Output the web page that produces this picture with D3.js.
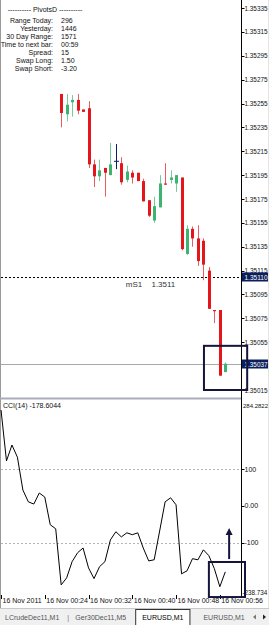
<!DOCTYPE html>
<html>
<head>
<meta charset="utf-8">
<script src="https://cdn.jsdelivr.net/npm/d3@7"></script>
<style>
    body { margin: 0; background: #fff; }
    svg { display: block; font-family: "Liberation Sans", Arial, sans-serif; }
</style>
</head>
<body>
<svg id="chart" width="269" height="625"></svg>
<script>
// EURUSD M1 candles, index = minutes after 00:16
const barIndex = [11, 12, 13, 14, 15, 16, 17, 18, 19, 20, 21, 22, 23, 24, 25, 26, 27, 28, 29, 30,
                  31, 32, 33, 34, 35, 36, 37, 38, 39, 40, 41];
const opens  = [1.35263, 1.35246, 1.35256, 1.35258, 1.35250, 1.35251, 1.35204, 1.35194, 1.35201, 1.35195,
                1.35207, 1.35205, 1.35191, 1.35197, 1.35197, 1.35190, 1.35174, 1.35157, 1.35168, 1.35188,
                1.35191, 1.35188, 1.35193, 1.35129, 1.35150, 1.35142, 1.35140, 1.35115, 1.35082, 1.35082, 1.35030];
const highs  = [1.35263, 1.35263, 1.35262, 1.35263, 1.35250, 1.35257, 1.35208, 1.35208, 1.35201, 1.35222,
                1.35221, 1.35210, 1.35203, 1.35199, 1.35197, 1.35192, 1.35174, 1.35177, 1.35195, 1.35205,
                1.35199, 1.35195, 1.35193, 1.35153, 1.35152, 1.35153, 1.35142, 1.35118, 1.35082, 1.35082, 1.35038];
const lows   = [1.35235, 1.35240, 1.35244, 1.35246, 1.35248, 1.35201, 1.35185, 1.35190, 1.35177, 1.35195,
                1.35200, 1.35187, 1.35189, 1.35188, 1.35190, 1.35173, 1.35160, 1.35155, 1.35168, 1.35187,
                1.35188, 1.35181, 1.35132, 1.35128, 1.35135, 1.35119, 1.35107, 1.35083, 1.35071, 1.35027, 1.35030];
const closes = [1.35247, 1.35254, 1.35258, 1.35249, 1.35248, 1.35204, 1.35194, 1.35199, 1.35197, 1.35204,
                1.35207, 1.35189, 1.35198, 1.35193, 1.35190, 1.35173, 1.35161, 1.35169, 1.35188, 1.35187,
                1.35193, 1.35195, 1.35133, 1.35150, 1.35142, 1.35123, 1.35120, 1.35083, 1.35081, 1.35027, 1.35037];

// CCI(14), one value per minute from 00:16
const cciValues = [260, 122, 165, 132, 43, 11, 5, 35, 24, -51,
                   -62, -214, -195, -151, -127, -114, -168, -197, -165, -151,
                   -92, -70, -84, -73, -78, -73, -114, -149, -146, -68,
                   11, 22, 3, -184, -176, -143, -146, -119, -135, -170,
                   -219, -178.6044];

const priceTicks = [1.35335, 1.35315, 1.35295, 1.35275, 1.35255, 1.35235, 1.35215, 1.35195, 1.35175,
                    1.35155, 1.35135, 1.35115, 1.35095, 1.35075, 1.35055, 1.35035, 1.35015];
const cciTicks = [100, 0, -100];
const cciTickLabels = ['100', '0.00', '-100'];
const cciMax = 284.2822;
const cciMin = -238.734;
const cciLevels = [100, -100];

const timeTicks = [0, 8, 16, 24, 32, 40];
const timeLabels = ['16 Nov 2011', '16 Nov 00:24', '16 Nov 00:32', '16 Nov 00:40', '16 Nov 00:48', '16 Nov 00:56'];

const pivotLevel = 1.3511;
const pivotName = 'mS1';
const bidPrice = 1.35037;

const infoLabels = ['Range  Today:', 'Yesterday:', '30 Day Range:', 'Time to next bar:', 'Spread:', 'Swap  Long:', 'Swap  Short:'];
const infoValues = ['296', '1446', '1571', '00:59', '15', '1.50', '-3.20'];

const tabLabels = ['LCrudeDec11,M1', 'Ger30Dec11,M5', 'EURUSD,M1', 'EURUSD,M1'];
const activeTab = 2;

// hand drawn boxes and arrow, in bar / price / cci units
const priceBox = {i0: 37.1, i1: 45.0, p0: 1.35052, p1: 1.35015};
const cciBox = {i0: 38.0, i1: 44.6, c0: -152, c1: -247};
const cciArrow = {i: 41.7, from: -144, to: -60};

const svg = d3.select('#chart');
const axisX = 241.5;
const ink = '#14143c';
const navy = '#0a1f5c';
const textCol = '#111';

let x = d3.scaleLinear().domain([0, 41]).range([1, 225.3]);
let yPrice = d3.scaleLinear().domain([1.35015, 1.35335]).range([390, 8]);
let yCci = d3.scaleLinear().domain([cciMin, cciMax]).range([594, 401]);

//Window borders
svg.append('line').attr('x1', 0.5).attr('x2', 0.5).attr('y1', 0).attr('y2', 609)
    .attr('stroke', '#9a9a9a');
svg.append('rect').attr('x', 268).attr('y', 0).attr('width', 1).attr('height', 609)
    .attr('fill', '#e4e4e4');

//Info block top left
let info = svg.append('g').attr('font-size', 7).attr('fill', textCol);
info.append('text').attr('x', 45).attr('y', 12).attr('text-anchor', 'middle')
    .text('---------- PivotsD ----------');
info.selectAll('text.lab').data(infoLabels).enter().append('text')
    .classed('lab', true)
    .attr('x', 53).attr('y', (d, i) => 23 + i * 8)
    .attr('text-anchor', 'end')
    .text(d => d);
info.selectAll('text.val').data(infoValues).enter().append('text')
    .classed('val', true)
    .attr('x', 61).attr('y', (d, i) => 23 + i * 8)
    .text(d => d);

//Pivot dashed line and name
let pivY = Math.round(yPrice(pivotLevel)) + 0.5;
svg.append('line')
    .attr('x1', 1).attr('x2', axisX)
    .attr('y1', pivY).attr('y2', pivY)
    .attr('stroke', '#000').attr('stroke-dasharray', '2,2');
svg.append('text').attr('x', x(22.8)).attr('y', pivY + 9)
    .attr('font-size', 8).attr('fill', '#333')
    .text(pivotName);
svg.append('text').attr('x', x(27.5)).attr('y', pivY + 9)
    .attr('font-size', 8).attr('fill', '#333')
    .text(pivotLevel.toFixed(4));

//Bid line
let bidY = Math.round(yPrice(bidPrice)) + 0.5;
svg.append('line')
    .attr('x1', 1).attr('x2', axisX)
    .attr('y1', bidY).attr('y2', bidY)
    .attr('stroke', '#a8a8a8');

//Candles
let candles = barIndex.map((b, k) => ({i: b, o: opens[k], h: highs[k], l: lows[k], c: closes[k]}));
let candleColor = d => d.c > d.o ? '#3cb371' : (d.c < d.o ? '#e4161b' : navy);

let cg = svg.append('g');
cg.selectAll('line').data(candles).enter().append('line')
    .attr('x1', d => Math.round(x(d.i)) + 0.5).attr('x2', d => Math.round(x(d.i)) + 0.5)
    .attr('y1', d => yPrice(d.h)).attr('y2', d => yPrice(d.l))
    .attr('stroke', candleColor)
    .attr('stroke-opacity', d => d.c === d.o ? 1 : 0.7);
cg.selectAll('rect').data(candles).enter().append('rect')
    .attr('x', d => Math.round(x(d.i)) - (d.c === d.o ? 2 : 1))
    .attr('y', d => yPrice(Math.max(d.o, d.c)))
    .attr('width', d => d.c === d.o ? 5 : 3)
    .attr('height', d => Math.max(1, yPrice(Math.min(d.o, d.c)) - yPrice(Math.max(d.o, d.c))))
    .attr('fill', candleColor);

//Separator between price and indicator window
svg.append('rect').attr('x', 0).attr('y', 397.5).attr('width', axisX).attr('height', 2)
    .attr('fill', '#a9acbc');

//CCI window
svg.append('text').attr('x', 3).attr('y', 408).attr('font-size', 7).attr('fill', textCol)
    .text('CCI(14) ' + cciValues[cciValues.length - 1].toFixed(4));

svg.selectAll('line.level').data(cciLevels).enter().append('line')
    .classed('level', true)
    .attr('x1', 1).attr('x2', axisX)
    .attr('y1', d => Math.round(yCci(d)) + 0.5).attr('y2', d => Math.round(yCci(d)) + 0.5)
    .attr('stroke', '#b4b4b4').attr('stroke-dasharray', '2,2');

let cciLine = d3.line().x((d, i) => x(i)).y(d => yCci(d));
svg.append('path').datum(cciValues)
    .attr('d', cciLine)
    .attr('fill', 'none').attr('stroke', '#000').attr('stroke-width', 1);

//Right axis
svg.append('line').attr('x1', axisX).attr('x2', axisX).attr('y1', 0).attr('y2', 598)
    .attr('stroke', '#000');

// the bid flag covers the tick label next to it
let shownTicks = priceTicks.filter(d => Math.abs(d - bidPrice) > 0.00006);

let pAxis = svg.append('g').attr('font-size', 7).attr('fill', textCol);
pAxis.selectAll('line').data(priceTicks).enter().append('line')
    .attr('x1', axisX).attr('x2', axisX + 3)
    .attr('y1', d => Math.round(yPrice(d)) + 0.5).attr('y2', d => Math.round(yPrice(d)) + 0.5)
    .attr('stroke', '#000');
pAxis.selectAll('text').data(shownTicks).enter().append('text')
    .attr('x', axisX + 3).attr('y', d => yPrice(d) + 2.5)
    .attr('textLength', 23).attr('lengthAdjust', 'spacingAndGlyphs')
    .text(d => d.toFixed(5));

let cAxis = svg.append('g').attr('font-size', 7).attr('fill', textCol);
cAxis.selectAll('line').data(cciTicks).enter().append('line')
    .attr('x1', axisX).attr('x2', axisX + 3)
    .attr('y1', d => Math.round(yCci(d)) + 0.5).attr('y2', d => Math.round(yCci(d)) + 0.5)
    .attr('stroke', '#000');
cAxis.selectAll('text.t').data(cciTicks).enter().append('text')
    .classed('t', true)
    .attr('x', axisX + 3).attr('y', d => yCci(d) + 2.5)
    .text((d, i) => cciTickLabels[i]);
cAxis.append('text').attr('x', axisX + 1.5).attr('y', yCci(cciMax) + 7)
    .attr('font-size', 6)
    .text(cciMax.toFixed(4));
cAxis.append('text').attr('x', axisX + 1).attr('y', yCci(cciMin) + 0.5)
    .attr('font-size', 6.3)
    .text(cciMin.toFixed(3));

//Price labels on the axis
function priceFlag(p, digits) {
    let yy = Math.round(yPrice(p));
    svg.append('rect').attr('x', axisX + 0.5).attr('y', yy - 4.5).attr('width', 26).attr('height', 9)
        .attr('fill', navy);
    svg.append('text').attr('x', axisX + 3).attr('y', yy + 2.5)
        .attr('font-size', 7).attr('fill', '#fff')
        .attr('textLength', 23).attr('lengthAdjust', 'spacingAndGlyphs')
        .text(p.toFixed(digits));
}
priceFlag(pivotLevel, 5);
priceFlag(bidPrice, 5);

//Time axis
let tAxis = svg.append('g').attr('font-size', 7).attr('fill', textCol);
tAxis.selectAll('line').data(timeTicks).enter().append('line')
    .attr('x1', d => Math.round(x(d)) + 0.5).attr('x2', d => Math.round(x(d)) + 0.5)
    .attr('y1', 595).attr('y2', 599)
    .attr('stroke', '#000');
tAxis.selectAll('text').data(timeTicks).enter().append('text')
    .attr('x', d => x(d) + 1.5).attr('y', 603)
    .text((d, i) => timeLabels[i]);

//Annotation boxes and arrow
svg.append('rect')
    .attr('x', x(priceBox.i0)).attr('y', yPrice(priceBox.p0))
    .attr('width', x(priceBox.i1) - x(priceBox.i0))
    .attr('height', yPrice(priceBox.p1) - yPrice(priceBox.p0))
    .attr('fill', 'none').attr('stroke', ink).attr('stroke-width', 2);
svg.append('rect')
    .attr('x', x(cciBox.i0)).attr('y', yCci(cciBox.c0))
    .attr('width', x(cciBox.i1) - x(cciBox.i0))
    .attr('height', yCci(cciBox.c1) - yCci(cciBox.c0))
    .attr('fill', 'none').attr('stroke', ink).attr('stroke-width', 2);

let ax = x(cciArrow.i);
svg.append('line')
    .attr('x1', ax).attr('x2', ax)
    .attr('y1', yCci(cciArrow.from)).attr('y2', yCci(cciArrow.to) + 5)
    .attr('stroke', ink).attr('stroke-width', 2);
svg.append('path')
    .attr('d', `M${ax},${yCci(cciArrow.to)} l-3.5,7 l7,0 z`)
    .attr('fill', ink);

//Tabs at the bottom
let tabs = svg.append('g').attr('font-size', 7);
tabs.append('rect').attr('x', 0).attr('y', 608).attr('width', 269).attr('height', 17)
    .attr('fill', '#f0f0f0');
tabs.append('line').attr('x1', 0).attr('x2', 269).attr('y1', 608.5).attr('y2', 608.5)
    .attr('stroke', '#c8c8c8');

let cursor = 5;
tabLabels.forEach((label, k) => {
    let t = tabs.append('text').attr('x', cursor).attr('y', 620)
        .attr('fill', k === activeTab ? '#000' : '#555')
        .text(label);
    let w = t.node().getComputedTextLength();
    if (k === activeTab) {
        tabs.insert('rect', 'text')
            .attr('x', cursor - 6.5).attr('y', 609.5).attr('width', w + 13).attr('height', 16)
            .attr('fill', '#fff').attr('stroke', '#333');
    }
    if (k === 0) {
        tabs.append('text').attr('x', cursor + w + 8).attr('y', 620).attr('fill', '#777').text('|');
    }
    cursor += w + (k === activeTab ? 20 : 16);
});
tabs.append('path').attr('d', 'M253,617 l3,-2.5 l0,5 z').attr('fill', '#777');
tabs.append('path').attr('d', 'M263,614.5 l3,2.5 l-3,2.5 z').attr('fill', '#222');
</script>
</body>
</html>
